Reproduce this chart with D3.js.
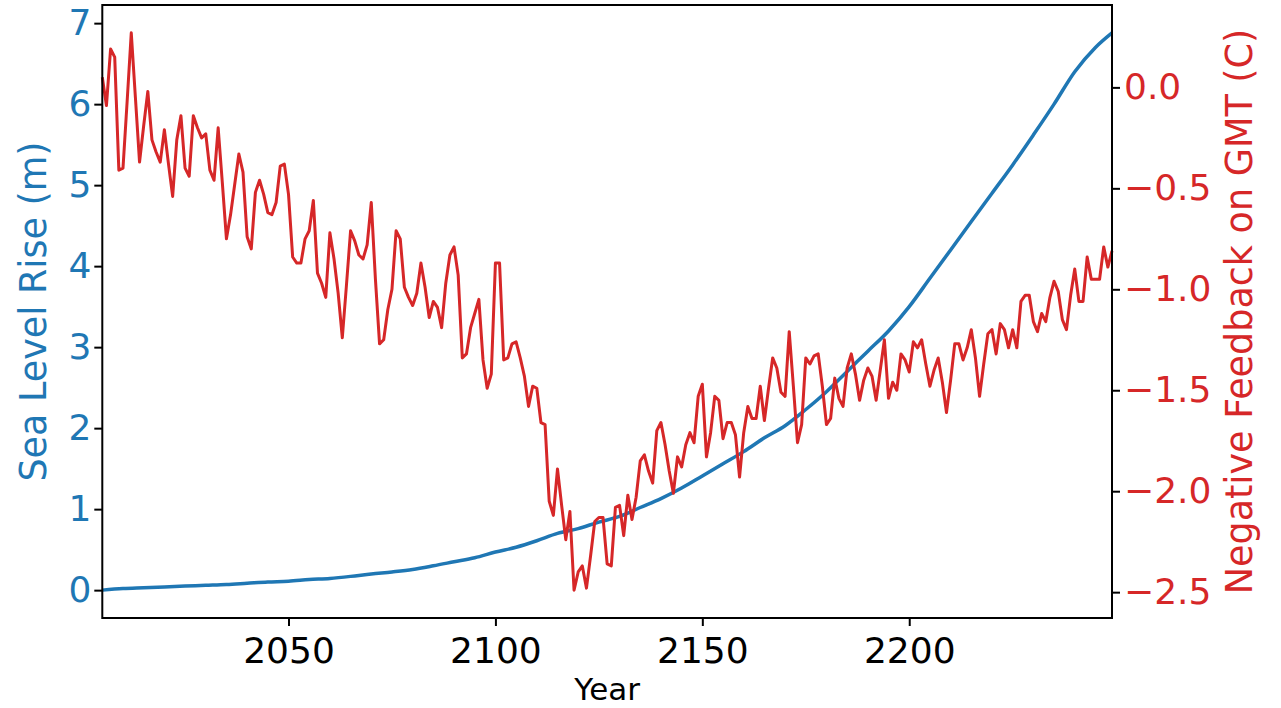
<!DOCTYPE html>
<html>
<head>
<meta charset="utf-8">
<script src="https://cdn.jsdelivr.net/npm/d3@7"></script>
<style>
  body { margin: 0; background: #fff; }
  text { font-family: "DejaVu Sans", sans-serif; }
</style>
</head>
<body>
<svg width="1281" height="708"></svg>
<script>
// sea level rise (m), read every 5 years
const seaYears = [2005,2010,2015,2020,2025,2030,2035,2040,2045,2050,2055,2060,2065,2070,2075,2080,2085,2090,2095,2100,
  2105,2110,2115,2120,2125,2130,2135,2140,2145,2150,2155,2160,2165,2170,2175,2180,2185,2190,2195,2200,
  2205,2210,2215,2220,2225,2230,2235,2240,2245,2249];
const seaLevel = [0.00,0.02,0.03,0.04,0.05,0.06,0.07,0.085,0.10,0.11,0.13,0.145,0.17,0.20,0.225,0.255,0.30,0.35,0.40,0.47,
  0.53,0.61,0.70,0.76,0.84,0.91,1.02,1.13,1.26,1.41,1.56,1.71,1.88,2.03,2.23,2.45,2.70,2.95,3.20,3.50,
  3.85,4.20,4.55,4.90,5.25,5.62,6.00,6.40,6.70,6.88];

// negative feedback on GMT (C), one value per year from 2005
const firstYear = 2005;
const feedback = [
  0.05,-0.09,0.19,0.15,-0.41,-0.40,-0.07,0.27,-0.05,-0.37,
  -0.19,-0.02,-0.26,-0.32,-0.37,-0.21,-0.38,-0.54,-0.26,-0.14,
  -0.40,-0.44,-0.14,-0.20,-0.25,-0.23,-0.41,-0.46,-0.20,-0.47,
  -0.75,-0.63,-0.48,-0.33,-0.42,-0.74,-0.80,-0.52,-0.46,-0.53,
  -0.62,-0.63,-0.57,-0.39,-0.38,-0.53,-0.84,-0.87,-0.87,-0.75,
  -0.71,-0.56,-0.92,-0.97,-1.04,-0.72,-0.85,-1.02,-1.24,-0.98,
  -0.71,-0.76,-0.83,-0.85,-0.78,-0.57,-0.95,-1.27,-1.25,-1.10,
  -1.00,-0.71,-0.75,-0.99,-1.04,-1.08,-1.02,-0.87,-0.99,-1.14,
  -1.06,-1.09,-1.19,-0.97,-0.83,-0.79,-0.93,-1.34,-1.32,-1.19,
  -1.12,-1.05,-1.35,-1.49,-1.42,-0.87,-0.87,-1.35,-1.34,-1.27,
  -1.26,-1.34,-1.43,-1.58,-1.48,-1.49,-1.66,-1.67,-2.05,-2.12,
  -1.89,-2.07,-2.24,-2.10,-2.49,-2.40,-2.37,-2.48,-2.32,-2.15,
  -2.13,-2.13,-2.36,-2.37,-2.08,-2.07,-2.22,-2.02,-2.14,-2.03,
  -1.85,-1.82,-1.90,-1.96,-1.70,-1.66,-1.77,-1.90,-2.01,-1.83,
  -1.88,-1.77,-1.71,-1.76,-1.53,-1.47,-1.83,-1.71,-1.53,-1.55,
  -1.74,-1.66,-1.66,-1.72,-1.93,-1.71,-1.58,-1.64,-1.64,-1.48,
  -1.65,-1.49,-1.34,-1.39,-1.51,-1.53,-1.21,-1.48,-1.76,-1.67,
  -1.34,-1.37,-1.33,-1.32,-1.48,-1.67,-1.64,-1.44,-1.54,-1.58,
  -1.39,-1.32,-1.42,-1.55,-1.45,-1.39,-1.43,-1.55,-1.40,-1.25,
  -1.54,-1.46,-1.50,-1.32,-1.35,-1.41,-1.26,-1.29,-1.25,-1.37,
  -1.48,-1.40,-1.34,-1.46,-1.61,-1.45,-1.27,-1.27,-1.35,-1.29,
  -1.20,-1.34,-1.53,-1.37,-1.22,-1.20,-1.32,-1.17,-1.20,-1.29,
  -1.20,-1.29,-1.06,-1.03,-1.03,-1.16,-1.21,-1.12,-1.16,-1.04,
  -0.96,-1.01,-1.15,-1.20,-1.03,-0.90,-1.06,-1.06,-0.84,-0.95,
  -0.95,-0.95,-0.79,-0.89,-0.81];

const xTicks = [2050, 2100, 2150, 2200];
const leftTicks = [0, 1, 2, 3, 4, 5, 6, 7];
const rightTicks = [0.0, -0.5, -1.0, -1.5, -2.0, -2.5];

const blue = "#1f77b4", red = "#d62728";
const svg = d3.select("svg");
const plotL = 102.3, plotR = 1112, plotT = 5, plotB = 618;

const sea = seaYears.map((y, i) => ({year: y, v: seaLevel[i]}));
const fb = feedback.map((v, i) => ({year: firstYear + i, v: v}));

// pad like matplotlib margins (5%)
function padded(ext) {
  const m = (ext[1] - ext[0]) * 0.05;
  return [ext[0] - m, ext[1] + m];
}

//XSCALE
const xScale = d3.scaleLinear()
  .domain([firstYear, firstYear + feedback.length - 1])
  .range([plotL, plotR]);

//YSCALES
const yLeft = d3.scaleLinear().domain(padded(d3.extent(seaLevel))).range([plotB, plotT]);
const yRight = d3.scaleLinear().domain(padded(d3.extent(feedback))).range([plotB, plotT]);

//LINES
const blueLine = d3.line().x(d => xScale(d.year)).y(d => yLeft(d.v)).curve(d3.curveMonotoneX);
const redLine = d3.line().x(d => xScale(d.year)).y(d => yRight(d.v));

svg.append("path").datum(sea)
  .attr("d", blueLine).attr("fill", "none")
  .attr("stroke", blue).attr("stroke-width", 3.5);

svg.append("path").datum(fb)
  .attr("d", redLine).attr("fill", "none")
  .attr("stroke", red).attr("stroke-width", 3).attr("stroke-linejoin", "round");

//AXES
const xAxis = svg.append("g")
  .attr("transform", "translate(0," + plotB + ")")
  .call(d3.axisBottom(xScale).tickValues(xTicks).tickFormat(d3.format("d")).tickSize(8).tickPadding(11));

const lAxis = svg.append("g")
  .attr("transform", "translate(" + plotL + ",0)")
  .call(d3.axisLeft(yLeft).tickValues(leftTicks).tickFormat(d3.format("d")).tickSize(8).tickPadding(3));

const rAxis = svg.append("g")
  .attr("transform", "translate(" + plotR + ",0)")
  .call(d3.axisRight(yRight).tickValues(rightTicks).tickFormat(d3.format(".1f")).tickSize(8).tickPadding(4));

[xAxis, lAxis, rAxis].forEach(a => {
  a.select(".domain").remove();
  a.selectAll(".tick line").attr("stroke", "#000").attr("stroke-width", 2);
  a.selectAll(".tick text").attr("font-size", "36px").attr("font-family", "DejaVu Sans");
});
xAxis.selectAll(".tick text").attr("fill", "#000");
lAxis.selectAll(".tick text").attr("fill", blue);
rAxis.selectAll(".tick text").attr("fill", red);

//FRAME
svg.append("rect")
  .attr("x", plotL).attr("y", plotT)
  .attr("width", plotR - plotL).attr("height", plotB - plotT)
  .attr("fill", "none").attr("stroke", "#000").attr("stroke-width", 2);

//LABELS
svg.append("text")
  .attr("x", (plotL + plotR) / 2).attr("y", 700)
  .attr("text-anchor", "middle")
  .attr("font-size", "31px")
  .text("Year");

svg.append("text")
  .attr("transform", "translate(45.5," + (plotT + plotB) / 2 + ") rotate(-90)")
  .attr("text-anchor", "middle")
  .attr("font-size", "36.5px")
  .attr("fill", blue)
  .text("Sea Level Rise (m)");

svg.append("text")
  .attr("transform", "translate(1252," + (plotT + plotB) / 2 + ") rotate(-90)")
  .attr("text-anchor", "middle")
  .attr("font-size", "36.5px")
  .attr("fill", red)
  .text("Negative Feedback on GMT (C)");
</script>
</body>
</html>
